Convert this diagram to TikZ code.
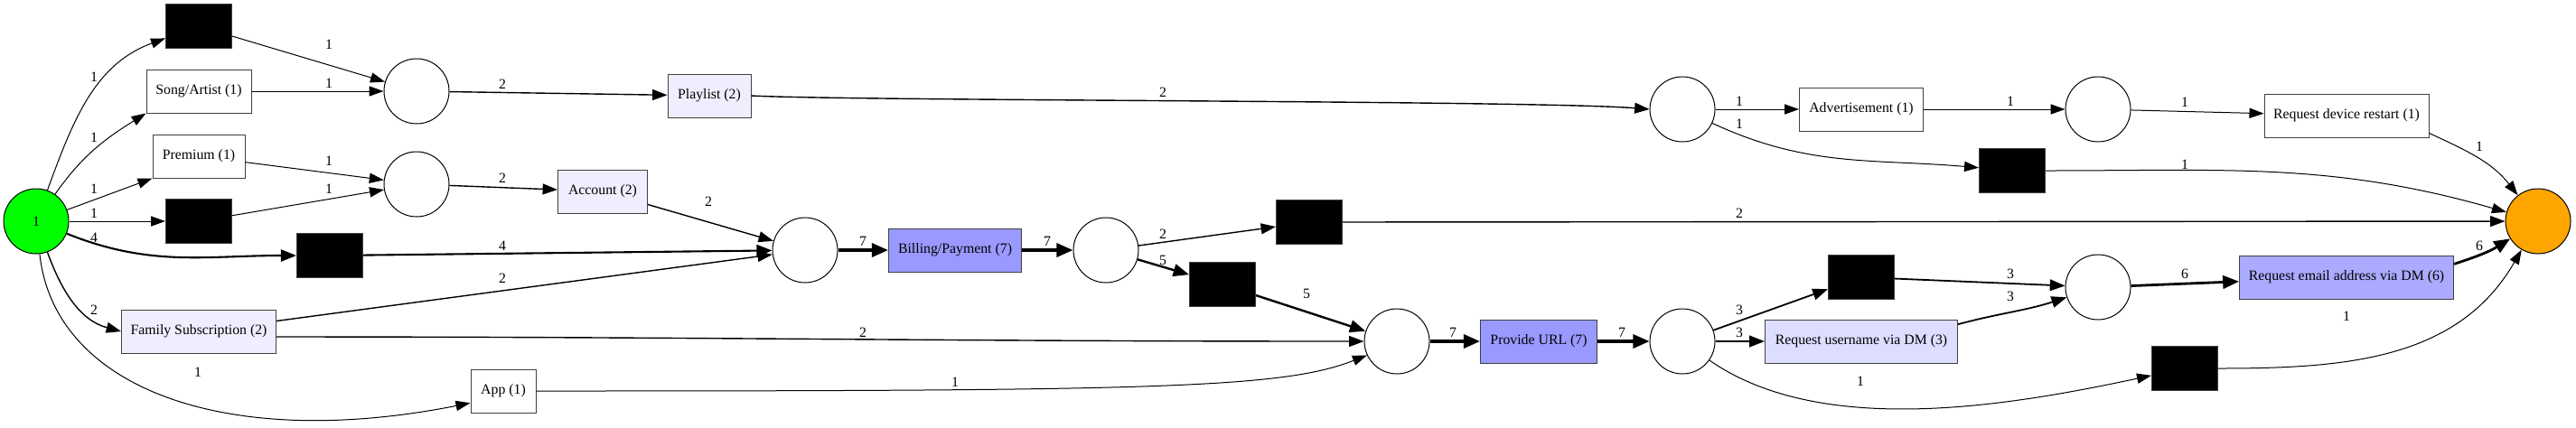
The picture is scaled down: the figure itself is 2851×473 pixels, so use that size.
\documentclass[tikz,border=0pt]{standalone}
\usepackage{fontspec}
\setmainfont{Liberation Serif}
\usetikzlibrary{arrows.meta}
\definecolor{lavA}{HTML}{EEEEFF}
\definecolor{lavB}{HTML}{DDDDFF}
\definecolor{blueC}{HTML}{AAAAFF}
\definecolor{blueD}{HTML}{9999FF}
\definecolor{srcgreen}{HTML}{00FF00}
\definecolor{sinkorange}{HTML}{FFA500}
\newcommand{\labfont}{\fontsize{7.9}{9.5}\selectfont}
\tikzset{
  lab/.style={font=\labfont, inner sep=0pt},
  act/.style={rectangle, draw=black!75, line width=0.5pt, minimum height=24pt, inner sep=0pt, font=\labfont},
  tr/.style={rectangle, draw=black!75, fill=black, line width=0.5pt, minimum width=36.5pt, minimum height=24.5pt, inner sep=0pt},
  pl/.style={circle, draw=black, line width=0.5pt, minimum size=36pt, inner sep=0pt, font=\labfont},
  arc/.style={draw=black, -{Triangle[length=7.5pt 1, width=4.7pt 1.8]}},
  w1/.style={arc, line width=0.5pt},
  w2/.style={arc, line width=0.7pt},
  w3/.style={arc, line width=0.9pt},
  w4/.style={arc, line width=1.05pt},
  w5/.style={arc, line width=1.2pt},
  w6/.style={arc, line width=1.4pt},
  w7/.style={arc, line width=1.6pt},
}
\begin{document}
\begin{tikzpicture}[x=0.5pt, y=-0.5pt]
\useasboundingbox (0,0) rectangle (2851,473);
% places
\node[pl, fill=srcgreen] (src) at (40,245) {1};
\node[pl, fill=sinkorange] (sink) at (2809,245) {};
\node[pl] (pA) at (461,101) {};
\node[pl] (pB) at (461,204) {};
\node[pl] (pC) at (891,277) {};
\node[pl] (pD) at (1224,277) {};
\node[pl] (pE) at (1862,121) {};
\node[pl] (pF) at (1546,378) {};
\node[pl] (pG) at (1862,378) {};
\node[pl] (pH) at (2322,121) {};
\node[pl] (pI) at (2322,318) {};
% hidden transitions
\node[tr] (t1) at (220,29) {};
\node[tr] (t2) at (220,245) {};
\node[tr] (t3) at (365,283) {};
\node[tr] (t4) at (1449,246) {};
\node[tr] (t5) at (1353,315) {};
\node[tr] (t6) at (2060,307) {};
\node[tr] (t7) at (2227,189) {};
\node[tr] (t8) at (2418,408) {};
% activities
\node[act, minimum width=58pt] (song) at (220,101) {Song/Artist (1)};
\node[act, minimum width=51pt] (prem) at (220,173) {Premium (1)};
\node[act, fill=lavA, minimum width=85.5pt] (fam) at (220,367) {Family Subscription (2)};
\node[act, minimum width=36pt] (app) at (557,433) {App (1)};
\node[act, fill=lavA, minimum width=46pt] (play) at (785,106) {Playlist (2)};
\node[act, fill=lavA, minimum width=49.5pt] (acc) at (667,212) {Account (2)};
\node[act, fill=blueD, minimum width=73.5pt] (bill) at (1057,277) {Billing/Payment (7)};
\node[act, fill=blueD, minimum width=64.5pt] (url) at (1703,378) {Provide URL (7)};
\node[act, fill=lavB, minimum width=106.5pt] (user) at (2060,378) {Request username via DM (3)};
\node[act, fill=blueC, minimum width=118.5pt] (email) at (2597,307) {Request email address via DM (6)};
\node[act, minimum width=68.5pt] (adv) at (2060,121) {Advertisement (1)};
\node[act, minimum width=91pt] (rst) at (2597,128) {Request device restart (1)};
% arcs
\draw[w1] (src) to[out=70,in=200] (t1);
\draw[w1] (src) to[out=55,in=212] (song.south west);
\draw[w1] (src) -- (prem.south west);
\draw[w1] (src) -- (t2);
\draw[w4] (src) to[out=-22,in=180] (t3);
\draw[w2] (src) to[out=-70,in=165] (fam.west);
\draw[w1] (src) .. controls (60,430) and (250,500) .. (app.200);
\draw[w1] (t1) -- (pA);
\draw[w1] (song) -- (pA);
\draw[w1] (prem) -- (pB);
\draw[w1] (t2) -- (pB);
\draw[w2] (pA) -- (play);
\draw[w2] (pB) -- (acc);
\draw[w2] (acc) -- (pC);
\draw[w4] (t3) -- (pC);
\draw[w2] (fam) -- (pC);
\draw[w2] (fam.356) to[out=0,in=180] (pF);
\draw[w1] (app) .. controls (1280,433) and (1420,430) .. (pF.205);
\draw[w7] (pC) -- (bill);
\draw[w7] (bill) -- (pD);
\draw[w2] (pD) -- (t4);
\draw[w5] (pD) -- (t5);
\draw[w5] (t5) -- (pF);
\draw[w2] (t4) -- (sink);
\draw[w2] (play.east) .. controls (950,112) and (1700,111) .. (pE.west);
\draw[w1] (pE) -- (adv);
\draw[w1] (pE) to[out=-25,in=175] (t7);
\draw[w1] (adv) -- (pH);
\draw[w1] (pH) -- (rst);
\draw[w1] (rst.-12) to[out=-25,in=128] (sink);
\draw[w1] (t7) to[out=0,in=164] (sink);
\draw[w7] (pF) -- (url);
\draw[w7] (url) -- (pG);
\draw[w3] (pG) -- (t6);
\draw[w3] (pG) -- (user);
\draw[w1] (pG) to[out=-35,in=192,looseness=0.8] (t8);
\draw[w3] (t6) -- (pI);
\draw[w3] (user.10) to[out=15,in=198] (pI);
\draw[w6] (pI) -- (email);
\draw[w6] (email.7) to[out=18,in=212] (sink);
\draw[w1] (t8) to[out=0,in=240] (sink);
% arc labels
\node[lab] (l1) at (104,85) {1};
\node[lab] (l2) at (104,152) {1};
\node[lab] (l3) at (104,209) {1};
\node[lab] (l4) at (104,236) {1};
\node[lab] (l5) at (104,263) {4};
\node[lab] (l6) at (104,343) {2};
\node[lab] (l7) at (219,412) {1};
\node[lab] (l8) at (364,49) {1};
\node[lab] (l9) at (364,92) {1};
\node[lab] (l10) at (556,93) {2};
\node[lab] (l11) at (364,178) {1};
\node[lab] (l12) at (364,209) {1};
\node[lab] (l13) at (556,197) {2};
\node[lab] (l14) at (556,272) {4};
\node[lab] (l15) at (556,308) {2};
\node[lab] (l16) at (784,223) {2};
\node[lab] (l17) at (955,267) {7};
\node[lab] (l18) at (1159,267) {7};
\node[lab] (l19) at (1287,259) {2};
\node[lab] (l20) at (1287,288) {5};
\node[lab] (l21) at (1446,325) {5};
\node[lab] (l22) at (1287,102) {2};
\node[lab] (l23) at (955,368) {2};
\node[lab] (l24) at (1057,423) {1};
\node[lab] (l25) at (1925,112) {1};
\node[lab] (l26) at (1925,137) {1};
\node[lab] (l27) at (1925,236) {2};
\node[lab] (l28) at (1608,368) {7};
\node[lab] (l29) at (1795,368) {7};
\node[lab] (l30) at (1925,343) {3};
\node[lab] (l31) at (1925,368) {3};
\node[lab] (l32) at (2059,422) {1};
\node[lab] (l33) at (2225,112) {1};
\node[lab] (l34) at (2418,113) {1};
\node[lab] (l35) at (2418,182) {1};
\node[lab] (l36) at (2744,162) {1};
\node[lab] (l37) at (2225,303) {3};
\node[lab] (l38) at (2225,328) {3};
\node[lab] (l39) at (2418,303) {6};
\node[lab] (l40) at (2744,272) {6};
\node[lab] (l41) at (2597,350) {1};
\end{tikzpicture}
\end{document}
